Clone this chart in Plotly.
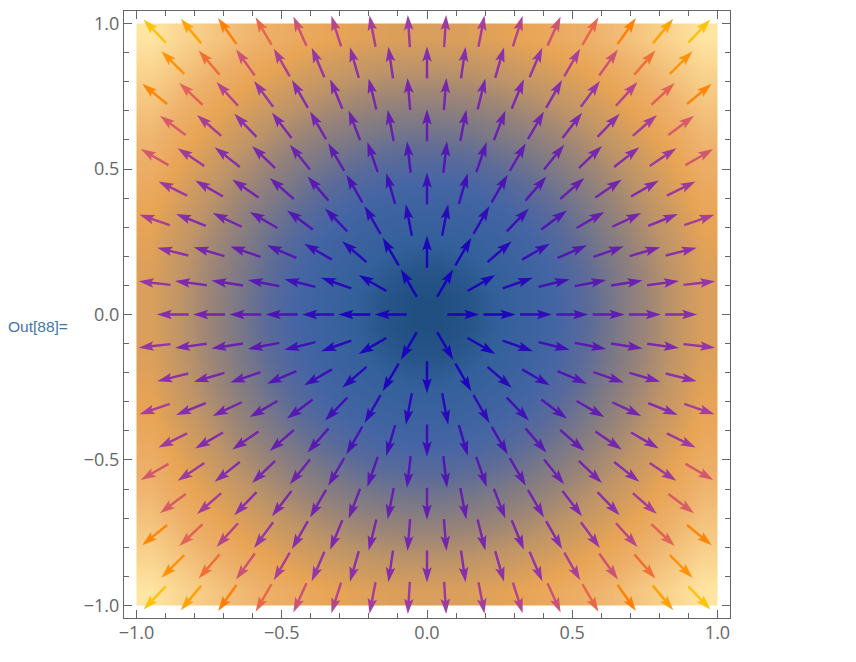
import numpy as np
import plotly.graph_objects as go
from plotly.colors import sample_colorscale

# hex grid of the field samples
row_y = [-0.974, -0.866, -0.758, -0.65, -0.541, -0.433, -0.325, -0.216, -0.108, 0.0,
         0.108, 0.216, 0.325, 0.433, 0.541, 0.65, 0.758, 0.866, 0.974]
x_even = [-0.875, -0.75, -0.625, -0.5, -0.375, -0.25, -0.125, 0.0,
          0.125, 0.25, 0.375, 0.5, 0.625, 0.75, 0.875]
x_odd = [-0.9375, -0.8125, -0.6875, -0.5625, -0.4375, -0.3125, -0.1875, -0.0625,
         0.0625, 0.1875, 0.3125, 0.4375, 0.5625, 0.6875, 0.8125, 0.9375]

# background squared magnitude, one quadrant, cells 0.1 wide
cell_x = [0.05, 0.15, 0.25, 0.35, 0.45, 0.55, 0.65, 0.75, 0.85, 0.95]
quadrant = [
    [0.005, 0.025, 0.065, 0.125, 0.205, 0.305, 0.425, 0.565, 0.725, 0.905],
    [0.025, 0.045, 0.085, 0.145, 0.225, 0.325, 0.445, 0.585, 0.745, 0.925],
    [0.065, 0.085, 0.125, 0.185, 0.265, 0.365, 0.485, 0.625, 0.785, 0.965],
    [0.125, 0.145, 0.185, 0.245, 0.325, 0.425, 0.545, 0.685, 0.845, 1.025],
    [0.205, 0.225, 0.265, 0.325, 0.405, 0.505, 0.625, 0.765, 0.925, 1.105],
    [0.305, 0.325, 0.365, 0.425, 0.505, 0.605, 0.725, 0.865, 1.025, 1.205],
    [0.425, 0.445, 0.485, 0.545, 0.625, 0.725, 0.845, 0.985, 1.145, 1.325],
    [0.565, 0.585, 0.625, 0.685, 0.765, 0.865, 0.985, 1.125, 1.285, 1.465],
    [0.725, 0.745, 0.785, 0.845, 0.925, 1.025, 1.145, 1.285, 1.445, 1.625],
    [0.905, 0.925, 0.965, 1.025, 1.105, 1.205, 1.325, 1.465, 1.625, 1.805],
]

# colour against magnitude
bg_r = [0.0, 0.25, 0.45, 0.55, 0.65, 0.75, 0.85, 1.0, 1.1, 1.2, 1.344]
bg_colors = ['#1F4E80', '#33609A', '#4565A5', '#5A6A9A', '#7A7888', '#9A8478',
             '#BE9468', '#E8A455', '#EDB06A', '#F5C680', '#FEE5A2']
arrow_r = [0.0, 0.25, 0.375, 0.5, 0.625, 0.75, 0.875, 0.97, 1.04, 1.11, 1.19, 1.26, 1.35]
arrow_colors = ['#1400BC', '#1C00BC', '#3008B8', '#4A10B4', '#6018B0', '#7020B0', '#8228B0',
                '#9634A6', '#B84488', '#E25E58', '#FF7A00', '#FF9A00', '#FFC000']

bg_scale = [[r * r / bg_r[-1] ** 2, c] for r, c in zip(bg_r, bg_colors)]
bg_scale[-1][0] = 1.0
arrow_scale = [[r / arrow_r[-1], c] for r, c in zip(arrow_r, arrow_colors)]

ARROW_LEN = 0.11
HEAD_LEN = 0.052
NOTCH_LEN = 0.044
HEAD_HALF = 0.0165
SHAFT_HALF = 0.0042

fig = go.Figure()

q = np.array(quadrant)
z = np.block([[q[::-1, ::-1], q[::-1, :]], [q[:, ::-1], q]])
cells = [-c for c in cell_x[::-1]] + cell_x
fig.add_trace(go.Heatmap(
    x=cells, y=cells, z=z,
    zmin=0, zmax=bg_r[-1] ** 2,
    zsmooth='best',
    colorscale=bg_scale,
    showscale=False,
    hoverinfo='skip',
))


def arrow_outline(cx, cy):
    r = np.hypot(cx, cy)
    ux, uy = cx / r, cy / r
    a = np.array([-ARROW_LEN / 2, ARROW_LEN / 2 - NOTCH_LEN, ARROW_LEN / 2 - HEAD_LEN,
                  ARROW_LEN / 2, ARROW_LEN / 2 - HEAD_LEN, ARROW_LEN / 2 - NOTCH_LEN,
                  -ARROW_LEN / 2, -ARROW_LEN / 2])
    b = np.array([SHAFT_HALF, SHAFT_HALF, HEAD_HALF, 0, -HEAD_HALF, -SHAFT_HALF,
                  -SHAFT_HALF, SHAFT_HALF])
    return cx + a * ux - b * uy, cy + a * uy + b * ux


for k, y in enumerate(row_y):
    for x in (x_odd if k % 2 == 0 else x_even):
        mag = np.hypot(x, y)
        if mag == 0:
            continue
        px, py = arrow_outline(x, y)
        color = sample_colorscale(arrow_scale, [min(mag / arrow_r[-1], 1)])[0]
        fig.add_trace(go.Scatter(
            x=px, y=py,
            mode='lines',
            fill='toself',
            fillcolor=color,
            line=dict(width=0, color=color),
            opacity=0.95,
            showlegend=False,
            hoverinfo='skip',
        ))

axis_style = dict(
    range=[-1.043, 1.043],
    tickvals=[-1, -0.5, 0, 0.5, 1],
    ticktext=['\u22121.0', '\u22120.5', '0.0', '0.5', '1.0'],
    ticks='inside',
    ticklen=8,
    tickwidth=1,
    tickcolor='#666666',
    minor=dict(dtick=0.1, ticks='inside', ticklen=5, tickwidth=1, tickcolor='#666666'),
    showline=True,
    linecolor='#666666',
    linewidth=1,
    mirror='allticks',
    showgrid=False,
    zeroline=False,
    tickfont=dict(family='Open Sans', size=18, color='#666666'),
)
fig.update_xaxes(ticklabelstandoff=-2, **axis_style)
fig.update_yaxes(**axis_style)

fig.add_annotation(
    text='Out[88]=',
    xref='paper', yref='paper',
    x=-0.195, y=0.481,
    xanchor='left', yanchor='middle',
    showarrow=False,
    font=dict(family='Liberation Sans', size=15.5, color='#3F76A8'),
)

fig.update_layout(
    width=856, height=662,
    autosize=False,
    margin=dict(l=116, r=134, t=3, b=52),
    plot_bgcolor='white',
    paper_bgcolor='white',
    showlegend=False,
)

fig.write_html('out.html')
